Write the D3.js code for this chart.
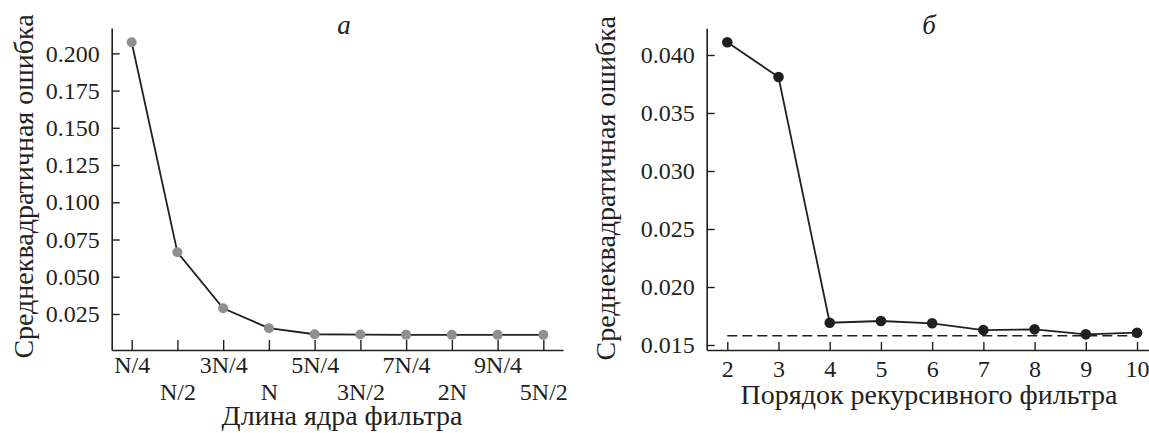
<!DOCTYPE html>
<html>
<head>
<meta charset="utf-8">
<script src="https://cdnjs.cloudflare.com/ajax/libs/d3/7.8.5/d3.min.js"></script>
<style>
  body { margin: 0; background: #fff; }
  svg { display: block; }
</style>
</head>
<body>
<div id="chart"></div>
<script>
// panel a: error vs filter kernel length
let kernelLabels = ["N/4", "N/2", "3N/4", "N", "5N/4", "3N/2", "7N/4", "2N", "9N/4", "5N/2"];
let kernelError = [0.2074, 0.0664, 0.0288, 0.0155, 0.0114, 0.0112, 0.0110, 0.0110, 0.0110, 0.0110];
let yTicksA = [0.025, 0.050, 0.075, 0.100, 0.125, 0.150, 0.175, 0.200];

// panel b: error vs recursive filter order
let filterOrder = [2, 3, 4, 5, 6, 7, 8, 9, 10];
let orderError = [0.0411, 0.0381, 0.01692, 0.01707, 0.01687, 0.01629, 0.01635, 0.01592, 0.01606];
let yTicksB = [0.015, 0.020, 0.025, 0.030, 0.035, 0.040];
let referenceLevel = 0.0158;

let yTitle = "Среднеквадратичная ошибка";

const ink = "#231f20";
const serif = "'Liberation Serif', 'Times New Roman', serif";

let svg = d3.select("#chart").append("svg")
  .attr("width", 1149)
  .attr("height", 433);

function styleAxis(g) {
  g.selectAll("path.domain").attr("stroke", ink).attr("stroke-width", 1.6);
  g.selectAll(".tick line").attr("stroke", ink).attr("stroke-width", 1.4);
  g.selectAll(".tick text")
    .style("font-family", serif)
    .style("font-size", "24px")
    .style("fill", ink);
}

function label(x, y, txt, size, rotate, italic) {
  return svg.append("text")
    .attr("transform", `translate(${x},${y})` + (rotate ? " rotate(-90)" : ""))
    .attr("text-anchor", "middle")
    .style("font-family", serif)
    .style("font-size", size + "px")
    .style("font-style", italic ? "italic" : "normal")
    .style("fill", ink)
    .text(txt);
}

// ---------- panel a ----------
let xA = d3.scaleLinear().domain([-0.437, 9.43]).range([111.7, 563]);
let yA = d3.scaleLinear().domain([0.00083, 0.217]).range([350, 28]);

let gxA = svg.append("g")
  .attr("transform", "translate(0,350)")
  .call(d3.axisBottom(xA)
    .tickValues(d3.range(kernelLabels.length))
    .tickFormat(i => kernelLabels[i])
    .tickSizeInner(-10).tickSizeOuter(0).tickPadding(0));
styleAxis(gxA);
gxA.selectAll(".tick text")
  .attr("dy", null)
  .attr("y", i => i % 2 === 0 ? 23 : 50);

let gyA = svg.append("g")
  .attr("transform", "translate(111.7,0)")
  .call(d3.axisLeft(yA)
    .tickValues(yTicksA)
    .tickFormat(d3.format(".3f"))
    .tickSizeInner(-8).tickSizeOuter(0).tickPadding(12));
styleAxis(gyA);

svg.append("path")
  .datum(kernelError)
  .attr("fill", "none")
  .attr("stroke", ink)
  .attr("stroke-width", 1.8)
  .attr("d", d3.line().x((d, i) => xA(i)).y(d => yA(d)));

svg.append("g").selectAll("circle")
  .data(kernelError)
  .join("circle")
  .attr("cx", (d, i) => xA(i))
  .attr("cy", d => yA(d))
  .attr("r", 5)
  .attr("fill", "#8f8f8f");

label(344, 34, "a", 27, false, true);
label(33, 186.5, yTitle, 28, true);
label(342, 425, "Длина ядра фильтра", 28);

// ---------- panel b ----------
let xB = d3.scaleLinear().domain([1.598, 10.234]).range([706.7, 1149]);
let yB = d3.scaleLinear().domain([0.01457, 0.0423]).range([350, 28.3]);

let gxB = svg.append("g")
  .attr("transform", "translate(0,350)")
  .call(d3.axisBottom(xB)
    .tickValues(filterOrder)
    .tickFormat(d3.format("d"))
    .tickSizeInner(-8).tickSizeOuter(0).tickPadding(0));
styleAxis(gxB);
gxB.selectAll(".tick text").attr("dy", null).attr("y", 27);

let gyB = svg.append("g")
  .attr("transform", "translate(706.7,0)")
  .call(d3.axisLeft(yB)
    .tickValues(yTicksB)
    .tickFormat(d3.format(".3f"))
    .tickSizeInner(-8).tickSizeOuter(0).tickPadding(12));
styleAxis(gyB);

svg.append("line")
  .attr("x1", xB(2)).attr("x2", xB(10))
  .attr("y1", yB(referenceLevel)).attr("y2", yB(referenceLevel))
  .attr("stroke", ink)
  .attr("stroke-width", 1.3)
  .attr("stroke-dasharray", "10,5");

svg.append("path")
  .datum(orderError)
  .attr("fill", "none")
  .attr("stroke", ink)
  .attr("stroke-width", 1.8)
  .attr("d", d3.line().x((d, i) => xB(filterOrder[i])).y(d => yB(d)));

svg.append("g").selectAll("circle")
  .data(orderError)
  .join("circle")
  .attr("cx", (d, i) => xB(filterOrder[i]))
  .attr("cy", d => yB(d))
  .attr("r", 5.3)
  .attr("fill", ink);

label(929, 34, "б", 27, false, true);
label(615, 188.3, yTitle, 28, true);
label(929, 404, "Порядок рекурсивного фильтра", 28);
</script>
</body>
</html>
